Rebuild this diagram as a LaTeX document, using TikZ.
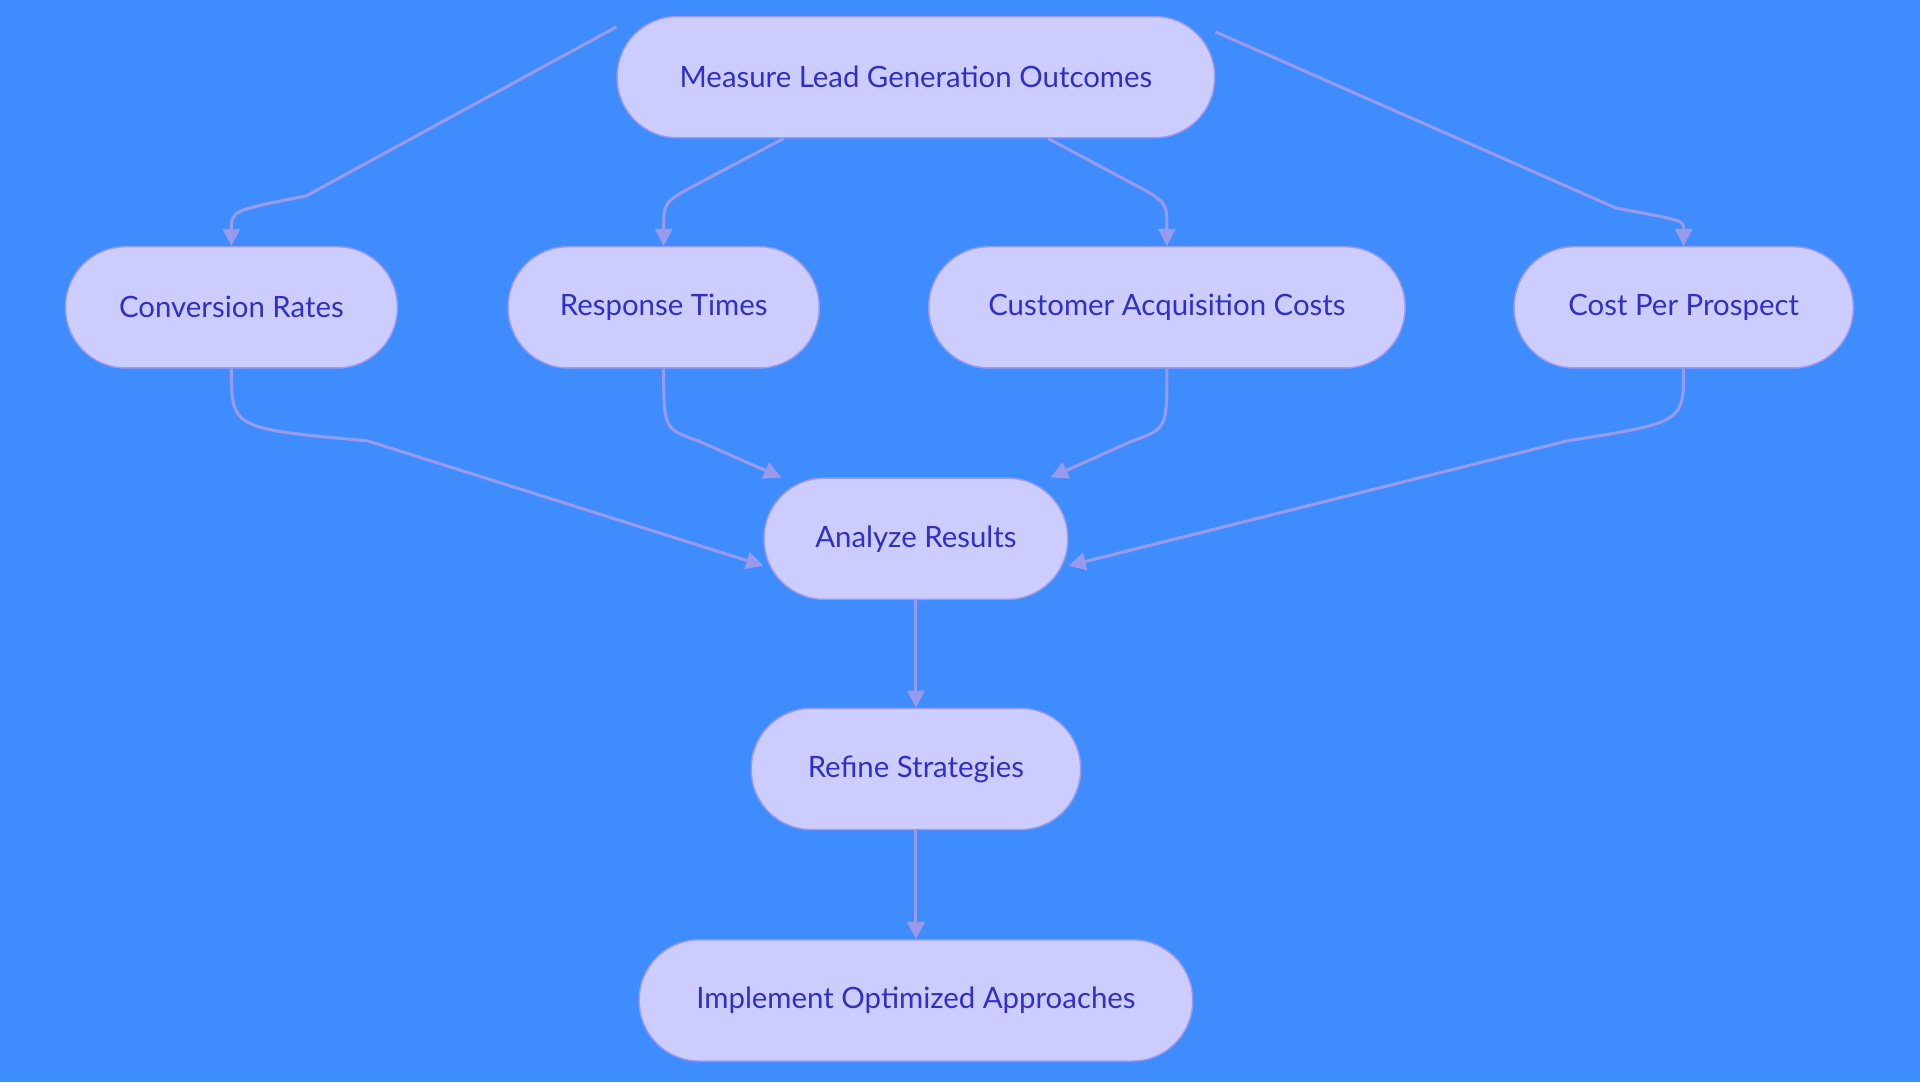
\documentclass[tikz,border=0pt]{standalone}
\usepackage{fontspec}
\setmainfont{Lato}
\usetikzlibrary{arrows.meta,calc}
\definecolor{bg}{HTML}{3F8CFF}
\definecolor{nf}{HTML}{CCCCFF}
\definecolor{ns}{HTML}{9A9AEC}
\definecolor{nt}{HTML}{3030C8}
\begin{document}
\begin{tikzpicture}[x=1pt,y=-1pt,
  box/.style={draw=ns,fill=nf,line width=1.2pt,rounded corners=49pt,minimum height=99pt,text=nt,font=\fontsize{24}{28}\selectfont,inner sep=0pt},
  ar/.style={draw=ns,line width=2.5pt,-{Triangle[length=14pt,width=14pt]}}]
\fill[bg] (0,0) rectangle (1568,884);
\useasboundingbox (0,0) rectangle (1568,884);
\node[box,minimum width=488pt] (top) at (748,63) {Measure Lead Generation Outcomes};
\node[box,minimum width=271pt] (cr) at (189,251) {Conversion Rates};
\node[box,minimum width=254pt] (rt) at (542,251) {Response Times};
\node[box,minimum width=389pt] (cac) at (953,251) {Customer Acquisition Costs};
\node[box,minimum width=277pt] (cpp) at (1375,251) {Cost Per Prospect};
\node[box,minimum width=248pt] (ar) at (748,440) {Analyze Results};
\node[box,minimum width=269pt] (rs) at (748,628) {Refine Strategies};
\node[box,minimum width=452pt] (io) at (748,817) {Implement Optimized Approaches};
\draw[ar] ([yshift=41pt]top.west) -- (250,160) .. controls (189,172) .. (cr.north);
\draw[ar] ([xshift=-108pt]top.south) -- (570,150) .. controls (542,165) .. (rt.north);
\draw[ar] ([xshift=108pt]top.south) -- (925,150) .. controls (953,165) .. (cac.north);
\draw[ar] ([yshift=37pt]top.east) -- (1320,170) .. controls (1375,180) .. (cpp.north);
\draw[ar] (cr.south) .. controls (189,350) .. (300,360) -- ([yshift=-22pt]ar.west);
\draw[ar] (rt.south) .. controls (542,350) .. (570,360) -- ([xshift=-110pt]ar.north);
\draw[ar] (cac.south) .. controls (953,350) .. (925,360) -- ([xshift=110pt]ar.north);
\draw[ar] (cpp.south) .. controls (1375,345) .. (1280,360) -- ([yshift=-22pt]ar.east);
\draw[ar] (ar) -- (rs);
\draw[ar] (rs) -- (io);
\end{tikzpicture}
\end{document}
